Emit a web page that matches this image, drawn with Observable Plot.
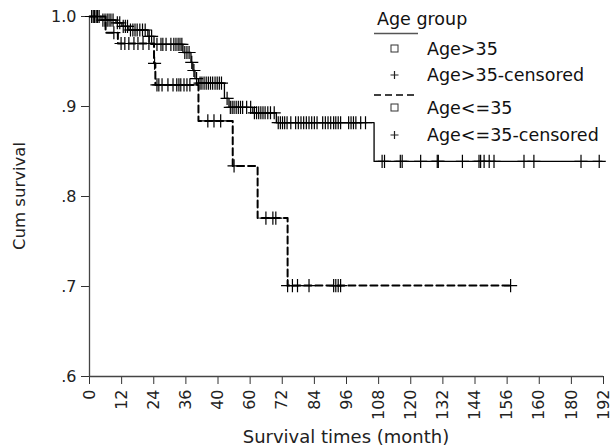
<!DOCTYPE html>
<html><head><meta charset="utf-8">
<script src="https://cdn.jsdelivr.net/npm/d3@7"></script>
<script src="https://cdn.jsdelivr.net/npm/@observablehq/plot@0.6"></script>
<style>
body{margin:0;background:#fff;}
#chart{width:613px;height:448px;}
</style></head><body><div id="chart"></div>
<script>
// Age > 35 (solid): step times (month) and survival after each step
const olderStepTimes = [0, 4.3, 9.9, 12.1, 14.7, 21.8, 24.1, 34.9, 37.9, 38.6, 39.4, 40.7, 50.4, 52.1, 61, 69.8, 106.3, 191.5];
const olderStepSurv  = [1.0, 0.996, 0.993, 0.989, 0.985, 0.978, 0.969, 0.960, 0.949, 0.940, 0.931, 0.926, 0.909, 0.899, 0.893, 0.882, 0.839, 0.839];
const olderCensorTimes = [0.8, 1.4, 1.9, 2.5, 3.0, 3.6, 5, 5.8, 6.6, 7.3, 8, 8.8, 10.4, 11.3, 12.6, 13.4, 14.2,
  15.3, 16.2, 17, 17.8, 18.8, 19.8, 20.8, 22.3, 23.2, 25.2, 26.7, 27.4, 28.6, 30.4, 31.5, 32.3, 33.1, 33.8, 34.5,
  35.6, 36.4, 37.2, 38.2, 39, 40, 41.3, 42, 42.8, 43.6, 44.4, 45.2, 46, 46.9, 47.7, 48.5, 49.3, 51.4,
  52.6, 53.3, 54, 54.8, 55.6, 56.4, 57.2, 58.7, 60.2, 61.6, 62.4, 63.2, 64, 64.8, 65.6, 66.6, 67.6, 69,
  70.5, 71.3, 72.1, 72.9, 73.8, 75.2, 77, 78, 79, 80, 81, 82, 83, 84, 85, 87.1, 88.1, 89.1, 90.1, 91.2, 92, 92.9, 93.8,
  96.8, 97.7, 98.6, 99.5, 101.3, 103.1,
  109.3, 110.2, 116.1, 116.8, 123.7, 129.9, 130.3, 139.3, 145.5, 146.1, 147.4, 149.3, 151.1, 162.3, 166, 183.6, 190.4];

// Age <= 35 (dashed)
const youngerStepTimes = [0, 6, 10.6, 24.1, 24.6, 40.7, 53.5, 62.8, 74, 157.3];
const youngerStepSurv  = [1.0, 0.982, 0.970, 0.948, 0.924, 0.884, 0.834, 0.776, 0.701, 0.701];
const youngerCensorTimes = [9.1, 11.8, 13.2, 14.7, 16.6, 18.1, 20, 22.2, 24.3,
  25.2, 25.9, 27.1, 29.3, 31.2, 32.6, 33.4, 34.1, 35.3, 36.4, 37.5,
  44.2, 46.5, 49, 54, 65.9, 68.5, 69.6, 74, 75.8, 77.7, 82, 91.2, 92, 92.9, 93.8, 157.3];

const xTicks = [0, 12, 24, 36, 48, 60, 72, 84, 96, 108, 120, 132, 144, 156, 168, 180, 192];
const xTickLabels = ["0", "12", "24", "36", "40", "60", "72", "84", "96", "108", "120", "132", "144", "156", "160", "180", "192"];
const yTicks = [0.6, 0.7, 0.8, 0.9, 1.0];
const yTickLabels = [".6", ".7", ".8", ".9", "1.0"];

const legendTitle = "Age group";
const legendLabels = ["Age>35", "Age>35-censored", "Age<=35", "Age<=35-censored"];
const xTitle = "Survival times (month)";
const yTitle = "Cum survival";

function survAt(times, surv, t) {
  const i = d3.bisectRight(times, t) - 1;
  return surv[Math.max(0, i)];
}
const olderLine = olderStepTimes.map((t, i) => ({t, s: olderStepSurv[i]}));
const youngerLine = youngerStepTimes.map((t, i) => ({t, s: youngerStepSurv[i]}));
const olderCens = olderCensorTimes.map(t => ({t, s: survAt(olderStepTimes, olderStepSurv, t)}));
const youngerCens = youngerCensorTimes.map(t => ({t, s: survAt(youngerStepTimes, youngerStepSurv, t)}));

const xLab = new Map(xTicks.map((d, i) => [d, xTickLabels[i]]));
const yLab = new Map(yTicks.map((d, i) => [d, yTickLabels[i]]));

const W = 613, H = 448, mL = 89, mR = 10, mT = 16, mB = 72;
const plot = Plot.plot({
  width: W, height: H, marginLeft: mL, marginRight: mR, marginTop: mT, marginBottom: mB,
  style: {fontFamily: "DejaVu Sans", fontSize: "16px", color: "#222", background: "#fff"},
  x: {domain: [0, 192]},
  y: {domain: [0.6, 1.0]},
  marks: [
    Plot.axisX({ticks: xTicks, tickFormat: d => xLab.get(d), tickRotate: -90, tickSize: 8, tickPadding: 5, fontSize: 16, label: null, stroke: "#333"}),
    Plot.axisY({ticks: yTicks, tickFormat: d => yLab.get(d), tickSize: 8, tickPadding: 5, fontSize: 16, label: null, stroke: "#333"}),
    Plot.ruleX([0], {stroke: "#444", strokeWidth: 1.3}),
    Plot.ruleY([0.6], {stroke: "#444", strokeWidth: 1.3}),
    Plot.line(olderLine, {x: "t", y: "s", curve: "step-after", stroke: "#000", strokeWidth: 1.3}),
    Plot.line(youngerLine, {x: "t", y: "s", curve: "step-after", stroke: "#000", strokeWidth: 2, strokeDasharray: "7,4"}),
    Plot.dot(olderCens, {x: "t", y: "s", symbol: "plus", r: 4.3, stroke: "#000", strokeWidth: 1.2}),
    Plot.dot(youngerCens, {x: "t", y: "s", symbol: "plus", r: 4.3, stroke: "#000", strokeWidth: 1.2})
  ]
});
document.getElementById("chart").appendChild(plot);

const svg = d3.select(plot);
const ff = "DejaVu Sans";
// axis titles
svg.append("text").attr("x", (mL + W - mR) / 2).attr("y", 437).attr("dy", "0.35em")
  .attr("text-anchor", "middle").attr("font-family", ff).attr("font-size", 18).attr("fill", "#222").text(xTitle);
svg.append("text").attr("transform", `translate(19,${(mT + H - mB) / 2}) rotate(-90)`).attr("dy", "0.35em")
  .attr("text-anchor", "middle").attr("font-family", ff).attr("font-size", 16.5).attr("fill", "#222").text(yTitle);

// legend
const lg = svg.append("g").attr("font-family", ff).attr("fill", "#111").attr("text-anchor", "start");
lg.append("text").attr("x", 377).attr("y", 19).attr("dy", "0.35em").attr("font-size", 17.5).text(legendTitle);
lg.append("line").attr("x1", 374).attr("x2", 418).attr("y1", 33.5).attr("y2", 33.5).attr("stroke", "#555").attr("stroke-width", 1.4);
lg.append("line").attr("x1", 374).attr("x2", 418).attr("y1", 95).attr("y2", 95).attr("stroke", "#000").attr("stroke-width", 1.6).attr("stroke-dasharray", "7,4");
const rows = [49, 75, 108, 135];
rows.forEach((y, i) => {
  if (i % 2 === 0) {
    lg.append("rect").attr("x", 391).attr("y", y - 4).attr("width", 7).attr("height", 7).attr("fill", "#fff").attr("stroke", "#333").attr("stroke-width", 1);
  } else {
    lg.append("path").attr("d", `M${394.5 - 4},${y}H${394.5 + 4}M394.5,${y - 4}V${y + 4}`).attr("stroke", "#222").attr("stroke-width", 1.2).attr("fill", "none");
  }
  lg.append("text").attr("x", 427).attr("y", y).attr("dy", "0.35em").attr("font-size", 17.5).text(legendLabels[i]);
});
</script></body></html>
